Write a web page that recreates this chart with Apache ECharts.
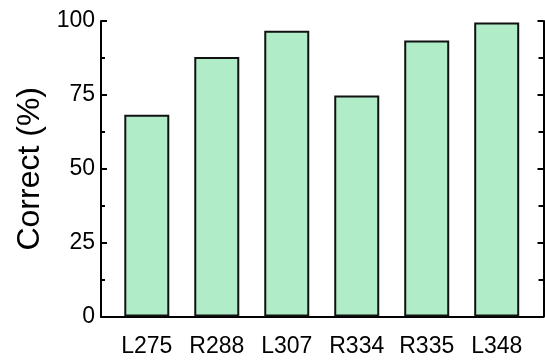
<!DOCTYPE html>
<html>
<head>
<meta charset="utf-8">
<script src="https://cdn.jsdelivr.net/npm/echarts@6/dist/echarts.min.js"></script>
<style>html,body{margin:0;padding:0;background:#fff;}#c{width:545px;height:361px;}</style>
</head>
<body>
<div id="c"></div>
<script>
var categories = ['L275', 'R288', 'L307', 'R334', 'R335', 'L348'];
var correct = [68.3, 87.8, 96.7, 74.8, 93.4, 99.5];
var yTicks = [0, 25, 50, 75, 100];

var font = 'Liberation Sans, Arial, sans-serif';
var chart = echarts.init(document.getElementById('c'), null, {renderer: 'canvas'});
chart.setOption({
  animation: false,
  backgroundColor: '#fff',
  grid: [
    {left: 111.8, right: 13.3, top: 21, bottom: 44.5, containLabel: false},
    {left: 101, right: 1.5, top: 21, bottom: 44.5, containLabel: false}
  ],
  xAxis: [
    {
      type: 'category', gridIndex: 0, data: categories,
      axisLine: {show: false}, axisTick: {show: false},
      axisLabel: {color: '#000', fontSize: 23, fontFamily: font, margin: 19, interval: 0},
      splitLine: {show: false}
    },
    {
      type: 'value', gridIndex: 1, min: 0, max: 1,
      axisLine: {show: true, onZero: false, lineStyle: {color: '#000', width: 2}},
      axisTick: {show: false}, axisLabel: {show: false}, splitLine: {show: false}
    }
  ],
  yAxis: [
    {
      type: 'value', gridIndex: 0, min: 0, max: 100, interval: 25, show: false
    },
    {
      type: 'value', gridIndex: 1, position: 'left', min: 0, max: 100, interval: 25,
      name: 'Correct (%)', nameLocation: 'middle', nameGap: 48,
      nameTextStyle: {color: '#000', fontSize: 32, fontFamily: font},
      axisLine: {show: true, lineStyle: {color: '#000', width: 2}},
      axisTick: {show: true, inside: true, length: 6, lineStyle: {color: '#000', width: 2}},
      minorTick: {show: true, splitNumber: 2, length: 4, lineStyle: {color: '#000', width: 2}},
      axisLabel: {color: '#000', fontSize: 23, fontFamily: font, margin: 6,
        formatter: function (v) { return yTicks.indexOf(v) >= 0 ? String(v) : ''; }},
      splitLine: {show: false}
    },
    {
      type: 'value', gridIndex: 1, position: 'right', min: 0, max: 100, interval: 25,
      axisLine: {show: true, lineStyle: {color: '#000', width: 2}},
      axisTick: {show: true, inside: true, length: 6, lineStyle: {color: '#000', width: 2}},
      minorTick: {show: true, splitNumber: 2, length: 5, lineStyle: {color: '#000', width: 2}},
      axisLabel: {show: false},
      splitLine: {show: false}
    }
  ],
  series: [
    {
      type: 'bar', xAxisIndex: 0, yAxisIndex: 0, data: correct, barWidth: 45,
      itemStyle: {color: '#b0ecc8', borderColor: '#111', borderWidth: 2}
    }
  ]
});
</script>
</body>
</html>
